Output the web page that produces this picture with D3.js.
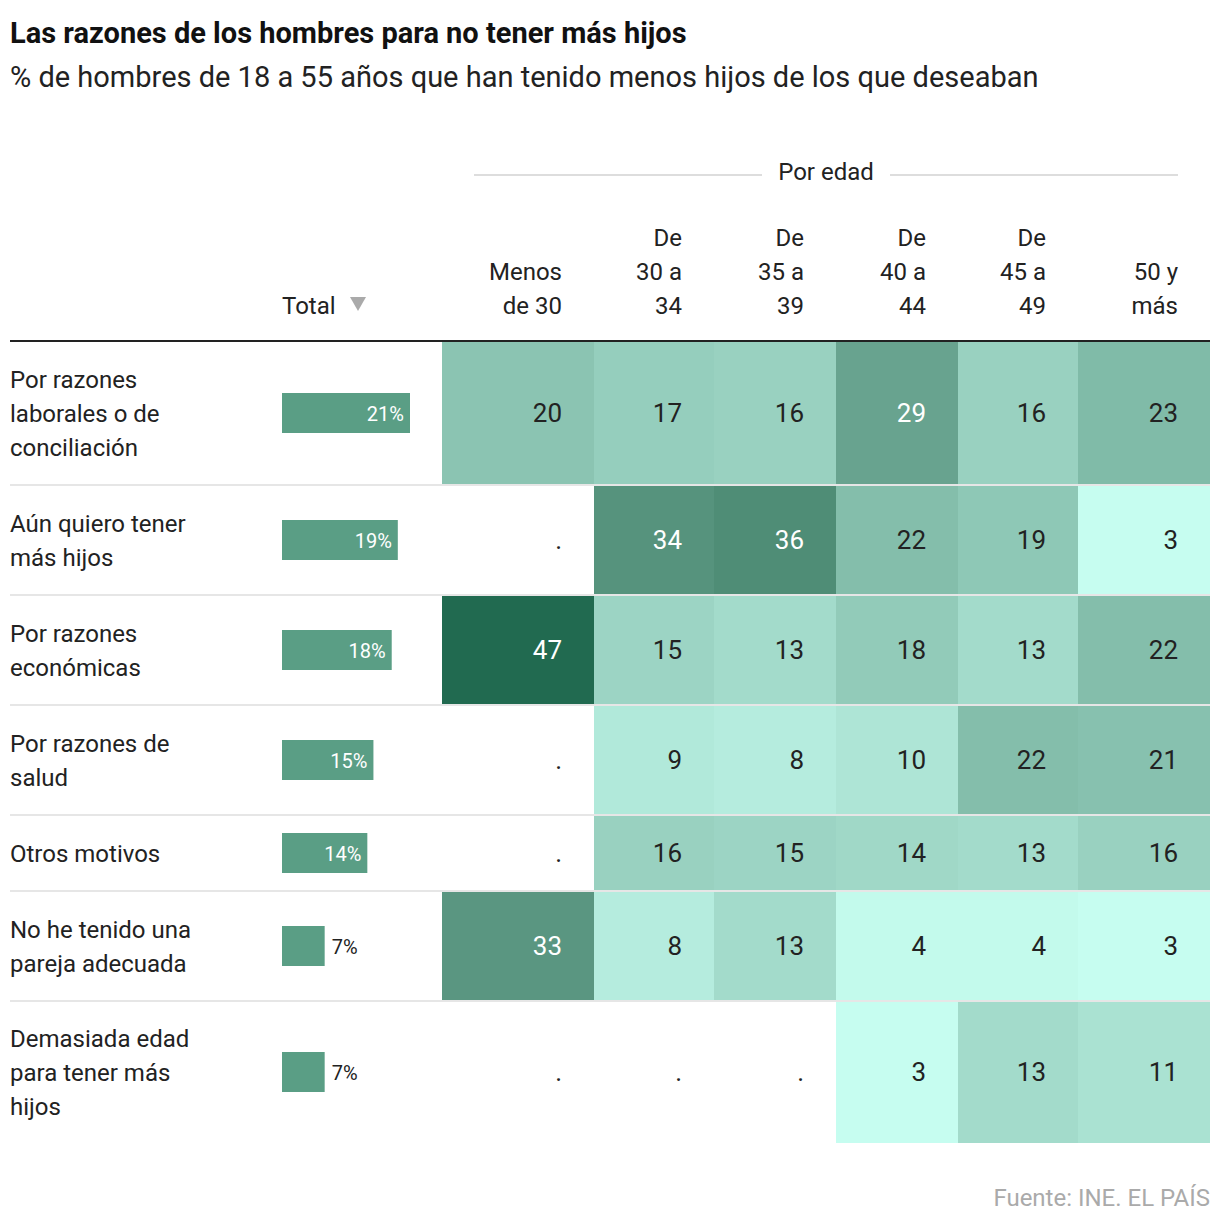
<!DOCTYPE html>
<html><head><meta charset="utf-8">
<script src="https://cdn.jsdelivr.net/npm/d3@7"></script>
<style>body{margin:0;background:#fff;font-family:Roboto,"Liberation Sans",sans-serif;}</style>
</head><body><div id="chart"></div>
<script>
const reasons = ["Por razones\nlaborales o de\nconciliación","Aún quiero tener\nmás hijos","Por razones\neconómicas","Por razones de\nsalud","Otros motivos","No he tenido una\npareja adecuada","Demasiada edad\npara tener más\nhijos"];
const totals = [21,19,18,15,14,7,7];
const ages = ["Menos\nde 30","De\n30 a\n34","De\n35 a\n39","De\n40 a\n44","De\n45 a\n49","50 y\nmás"];
const values = [
  [20,17,16,29,16,23],
  [null,34,36,22,19,3],
  [47,15,13,18,13,22],
  [null,9,8,10,22,21],
  [null,16,15,14,13,16],
  [33,8,13,4,4,3],
  [null,null,null,3,13,11]
];
const rowHeights = [144,110,110,110,76,110,142];
const colEdges = [442,594,714,836,958,1078,1210];

const W=1220,H=1228;
const svg=d3.select("#chart").append("svg").attr("width",W).attr("height",H);
svg.append("text").attr("x",10).attr("y",43).attr("font-size",29).attr("font-weight",700).attr("fill","#111").text("Las razones de los hombres para no tener más hijos");
svg.append("text").attr("x",10).attr("y",87).attr("font-size",29).attr("fill","#222").text("% de hombres de 18 a 55 años que han tenido menos hijos de los que deseaban");

// Por edad header
svg.append("text").attr("x",826).attr("y",180).attr("text-anchor","middle").attr("font-size",24).attr("fill","#222").text("Por edad");
svg.append("line").attr("x1",474).attr("x2",762).attr("y1",175).attr("y2",175).attr("stroke","#bbb");
svg.append("line").attr("x1",890).attr("x2",1178).attr("y1",175).attr("y2",175).attr("stroke","#bbb");

function multiline(sel,str,x,yBottom,anchor,lh){
  const lines=str.split("\n");
  lines.forEach((l,i)=>sel.append("text").attr("x",x).attr("y",yBottom-(lines.length-1-i)*lh).attr("text-anchor",anchor).attr("font-size",24).attr("fill","#222").text(l));
}
ages.forEach((a,i)=>multiline(svg,a,colEdges[i+1]-32,314,"end",34));
svg.append("text").attr("x",282).attr("y",314).attr("font-size",24).attr("fill","#222").text("Total");
svg.append("path").attr("d","M350,297 L366,297 L358,311 Z").attr("fill","#aaa");

const top0=341;
const rowTops=[]; let acc=top0; rowHeights.forEach(h=>{rowTops.push(acc);acc+=h;});
const color=d3.scaleLinear().domain([3,16,23,29,36,47]).range(["#c6fdf0","#99d1c0","#80bba8","#68a38f","#4f8d76","#216a50"]);
const x=d3.scaleLinear().domain([0,21]).range([282,410]);

reasons.forEach((r,ri)=>{
  const y0=rowTops[ri],h=rowHeights[ri],cy=y0+h/2;
  values[ri].forEach((v,ci)=>{
    const x0=colEdges[ci],x1=colEdges[ci+1];
    if(v!==null) svg.append("rect").attr("x",x0).attr("y",y0).attr("width",x1-x0).attr("height",h).attr("fill",color(v));
    svg.append("text").attr("x",x1-32).attr("y",cy+9).attr("text-anchor","end").attr("font-size",26)
      .attr("fill",v!==null&&v>=25?"#fff":"#222").text(v===null?".":v);
  });
  const lines=r.split("\n");
  lines.forEach((l,i)=>svg.append("text").attr("x",10).attr("y",cy+9+(i-(lines.length-1)/2)*34).attr("font-size",24).attr("fill","#222").text(l));
  const t=totals[ri];
  svg.append("rect").attr("x",x(0)).attr("y",cy-20).attr("width",x(t)-x(0)).attr("height",40).attr("fill","#5a9e85");
  if(t>=10) svg.append("text").attr("x",x(t)-6).attr("y",cy+8).attr("text-anchor","end").attr("font-size",20).attr("fill","#fff").text(t+"%");
  else svg.append("text").attr("x",x(t)+7).attr("y",cy+8).attr("font-size",20).attr("fill","#222").text(t+"%");
  if(ri>0) svg.append("line").attr("x1",10).attr("x2",1210).attr("y1",y0).attr("y2",y0).attr("stroke","#e6e6e6").attr("stroke-width",2);
});
svg.append("line").attr("x1",10).attr("x2",1210).attr("y1",top0).attr("y2",top0).attr("stroke","#222").attr("stroke-width",2);
svg.append("text").attr("x",1210).attr("y",1206).attr("text-anchor","end").attr("font-size",24).attr("fill","#aaa").text("Fuente: INE. EL PAÍS");
</script></body></html>
